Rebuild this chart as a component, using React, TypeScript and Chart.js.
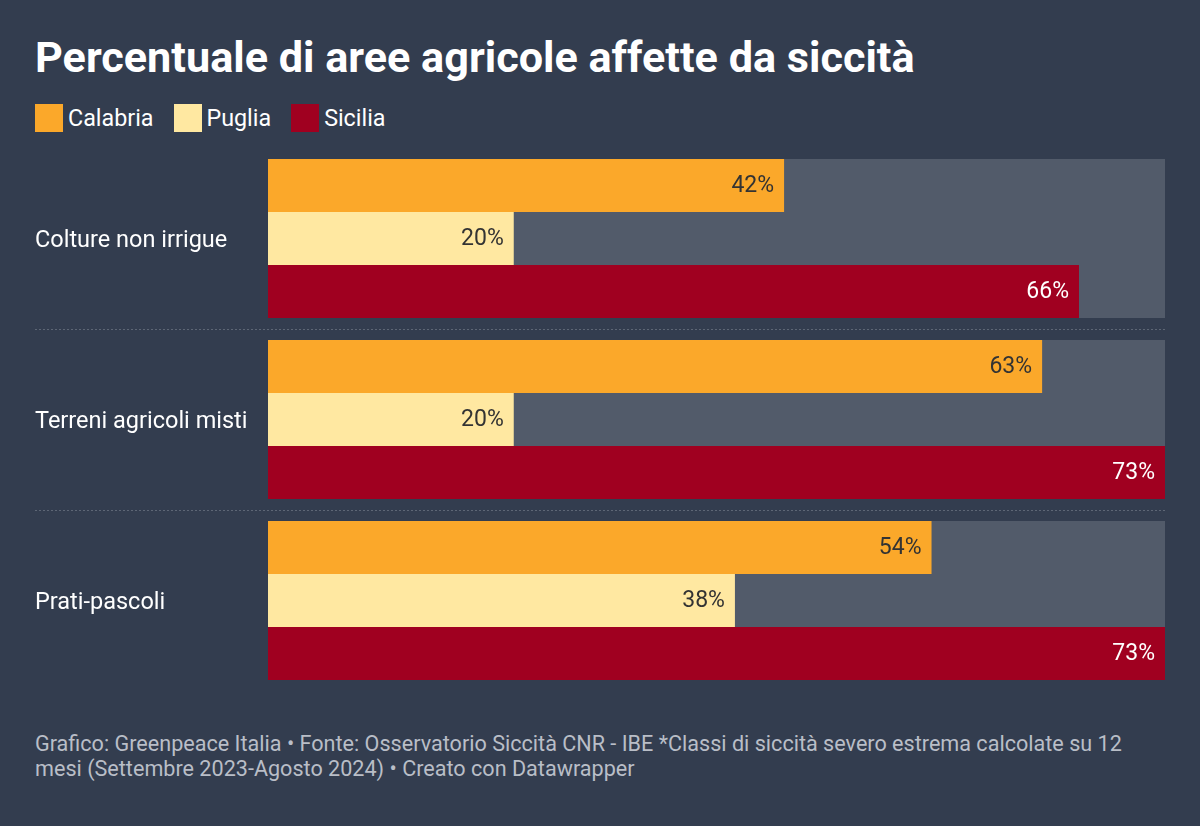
import React, { useEffect, useRef } from "react";
import { Chart, registerables } from "chart.js";

Chart.register(...registerables);

const categories = ["Colture non irrigue", "Terreni agricoli misti", "Prati-pascoli"];
const seriesNames = ["Calabria", "Puglia", "Sicilia"];
const calabria = [42, 63, 54];
const puglia = [20, 20, 38];
const sicilia = [66, 73, 73];
const seriesColors = ["#fba82a", "#ffe8a1", "#a00020"];
const labelColors = ["#333333", "#333333", "#ffffff"];
const xMax = 73;

const BG = "#333d4f";
const FONT = "Roboto, 'Noto Sans', sans-serif";

const bgBarsPlugin = {
  id: "bgBars",
  beforeDatasetsDraw(chart: any) {
    const ctx = chart.ctx;
    const x = chart.scales.x;
    const metas = [0, 1, 2].map((i) => chart.getDatasetMeta(i));
    ctx.save();
    ctx.fillStyle = "#525b6a";
    categories.forEach((_, i) => {
      const first = metas[0].data[i];
      const last = metas[2].data[i];
      const top = first.y - first.height / 2;
      const bottom = last.y + last.height / 2;
      ctx.fillRect(x.left, top, x.right - x.left, bottom - top);
    });
    ctx.restore();
  },
};

const separatorsPlugin = {
  id: "separators",
  afterDatasetsDraw(chart: any) {
    const ctx = chart.ctx;
    const y = chart.scales.y;
    const x = chart.scales.x;
    ctx.save();
    ctx.strokeStyle = "#5d6675";
    ctx.lineWidth = 1;
    ctx.setLineDash([2, 2]);
    for (let i = 0; i < categories.length - 1; i++) {
      const yy = Math.round((y.getPixelForValue(i) + y.getPixelForValue(i + 1)) / 2) + 0.5;
      ctx.beginPath();
      ctx.moveTo(35, yy);
      ctx.lineTo(x.right, yy);
      ctx.stroke();
    }
    ctx.restore();
  },
};

const valueLabelsPlugin = {
  id: "valueLabels",
  afterDatasetsDraw(chart: any) {
    const ctx = chart.ctx;
    ctx.save();
    ctx.font = `23px ${FONT}`;
    ctx.textAlign = "right";
    ctx.textBaseline = "middle";
    chart.data.datasets.forEach((ds: any, di: number) => {
      const meta = chart.getDatasetMeta(di);
      meta.data.forEach((bar: any, i: number) => {
        ctx.fillStyle = labelColors[di];
        ctx.fillText(`${ds.data[i]}%`, bar.x - 10, bar.y + 1);
      });
    });
    ctx.restore();
  },
};

export default function App() {
  const canvasRef = useRef<HTMLCanvasElement>(null);

  useEffect(() => {
    document.body.style.margin = "0";
    document.body.style.background = BG;
    const data = [calabria, puglia, sicilia];
    const chart = new Chart(canvasRef.current!, {
      type: "bar",
      data: {
        labels: categories,
        datasets: seriesNames.map((name, i) => ({
          label: name,
          data: data[i],
          backgroundColor: seriesColors[i],
          borderWidth: 0,
          categoryPercentage: 159 / 181,
          barPercentage: 1,
        })),
      },
      options: {
        indexAxis: "y",
        animation: false,
        responsive: false,
        maintainAspectRatio: false,
        layout: { padding: { left: 35, right: 35, top: 8, bottom: 9 } },
        plugins: {
          legend: { display: false },
          tooltip: { enabled: false },
          title: { display: false },
        },
        scales: {
          x: { display: false, min: 0, max: xMax },
          y: {
            grid: { display: false },
            border: { display: false },
            ticks: {
              crossAlign: "far",
              color: "#ffffff",
              font: { family: FONT, size: 23.5 },
              padding: 0,
              labelOffset: 3,
            },
            afterFit(scale: any) {
              scale.width = 268 - 35;
              scale.paddingTop = 0;
              scale.paddingBottom = 0;
            },
          },
        },
      },
      plugins: [bgBarsPlugin, separatorsPlugin, valueLabelsPlugin],
    } as any);
    return () => chart.destroy();
  }, []);

  return (
    <div
      style={{
        position: "fixed",
        left: 0,
        top: 0,
        width: 1200,
        height: 826,
        background: BG,
        fontFamily: FONT,
        overflow: "hidden",
      }}
    >
      <div
        style={{
          position: "absolute",
          left: 35,
          top: 35,
          fontSize: 43.2,
          fontWeight: 700,
          color: "#ffffff",
          lineHeight: "46px",
          whiteSpace: "nowrap",
        }}
      >
        Percentuale di aree agricole affette da siccità
      </div>
      <div
        style={{
          position: "absolute",
          left: 35,
          top: 104,
          display: "flex",
          alignItems: "center",
          height: 28,
        }}
      >
        {seriesNames.map((name, i) => (
          <div key={name} style={{ display: "flex", alignItems: "center", marginRight: 20 }}>
            <span
              style={{
                display: "inline-block",
                width: 28,
                height: 28,
                background: seriesColors[i],
                marginRight: 5,
              }}
            />
            <span style={{ color: "#ffffff", fontSize: 23.3, lineHeight: "28px" }}>{name}</span>
          </div>
        ))}
      </div>
      <canvas
        ref={canvasRef}
        width={1200}
        height={560}
        style={{ position: "absolute", left: 0, top: 140, width: 1200, height: 560 }}
      />
      <div
        style={{
          position: "absolute",
          left: 35,
          top: 731,
          width: 1130,
          fontSize: 21.6,
          lineHeight: "25px",
          color: "#b9bec7",
        }}
      >
        Grafico: Greenpeace Italia • Fonte: Osservatorio Siccità CNR - IBE *Classi di siccità severo
        estrema calcolate su 12 mesi (Settembre 2023-Agosto 2024) • Creato con Datawrapper
      </div>
    </div>
  );
}
